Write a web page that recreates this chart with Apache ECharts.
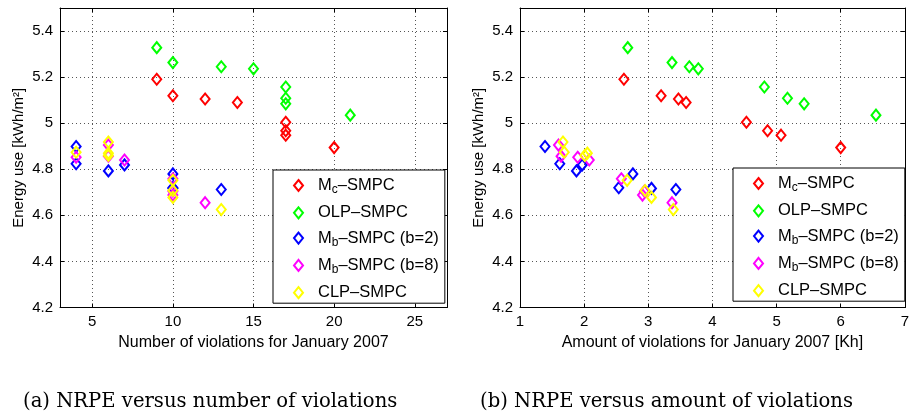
<!DOCTYPE html>
<html>
<head>
<meta charset="utf-8">
<script src="https://cdn.jsdelivr.net/npm/echarts@6/dist/echarts.min.js"></script>
<style>
  html, body { margin: 0; padding: 0; background: #fff; }
  #chart { width: 912px; height: 413px; }
</style>
</head>
<body>
<div id="chart"></div>
<script>
// Series names (legend order) and colours
const seriesNames = ['Mc\u2013SMPC', 'OLP\u2013SMPC', 'Mb\u2013SMPC (b=2)', 'Mb\u2013SMPC (b=8)', 'CLP\u2013SMPC'];
const seriesColors = ['#ff0000', '#00ff00', '#0000ff', '#ff00ff', '#ffff00'];

// Energy use per run [kWh/m2]
const energyMc  = [5.191, 5.119, 5.105, 5.090, 5.004, 4.967, 4.948, 4.894];
const energyOLP = [5.328, 5.263, 5.245, 5.236, 5.157, 5.108, 5.084, 5.035];
const energyMb2 = [4.899, 4.824, 4.793, 4.819, 4.720, 4.780, 4.717, 4.712];
const energyMb8 = [4.905, 4.857, 4.852, 4.840, 4.759, 4.688, 4.705, 4.655];
const energyCLP = [4.918, 4.874, 4.860, 4.870, 4.752, 4.708, 4.678, 4.625];

// Number of violations for January 2007
const countMc  = [9, 10, 12, 14, 17, 17, 17, 20];
const countOLP = [9, 10, 13, 15, 17, 17, 17, 21];
const countMb2 = [4, 4, 6, 7, 10, 10, 10, 13];
const countMb8 = [6, 6, 4, 7, 10, 10, 10, 12];
const countCLP = [6, 4, 6, 6, 10, 10, 10, 13];

// Amount of violations for January 2007 [Kh]
const amountMc  = [2.62, 3.20, 3.47, 3.59, 4.53, 4.86, 5.07, 6.00];
const amountOLP = [2.68, 3.37, 3.64, 3.78, 4.81, 5.17, 5.43, 6.55];
const amountMb2 = [1.39, 1.62, 1.88, 1.97, 2.54, 2.76, 3.05, 3.43];
const amountMb8 = [1.60, 1.64, 1.90, 2.08, 2.58, 2.91, 2.94, 3.37];
const amountCLP = [1.67, 1.69, 2.01, 2.05, 2.67, 2.95, 3.05, 3.39];

// Tick values
const countTicks = [5, 10, 15, 20, 25];
const amountTicks = [1, 2, 3, 4, 5, 6, 7];

const energies = [energyMc, energyOLP, energyMb2, energyMb8, energyCLP];
const counts = [countMc, countOLP, countMb2, countMb8, countCLP];
const amounts = [amountMc, amountOLP, amountMb2, amountMb8, amountCLP];

const FONT = 'Liberation Sans';
const gridLine = { show: true, lineStyle: { color: '#555', type: [1, 3], width: 1 } };
const axisLineBlack = { show: true, onZero: false, lineStyle: { color: '#000', width: 1 } };
const tickIn = { show: true, inside: true, length: 4, lineStyle: { color: '#000' } };

function xAxes(gridIndex, min, max, ticks, name) {
  const main = {
    type: 'value', gridIndex, min, max,
    position: 'bottom',
    name, nameLocation: 'middle', nameGap: 25,
    nameTextStyle: { fontFamily: FONT, fontSize: 16, color: '#000' },
    axisLine: axisLineBlack,
    axisTick: Object.assign({ customValues: ticks }, tickIn),
    axisLabel: { customValues: ticks, fontFamily: FONT, fontSize: 15, color: '#000', margin: 7 },
    splitLine: Object.assign({ customValues: ticks }, gridLine)
  };
  const mirror = {
    type: 'value', gridIndex, min, max, position: 'top',
    axisLine: axisLineBlack,
    axisTick: Object.assign({ customValues: ticks }, tickIn),
    axisLabel: { show: false },
    splitLine: { show: false }
  };
  return [main, mirror];
}

function yAxes(gridIndex) {
  const main = {
    type: 'value', gridIndex, min: 4.2, max: 5.5, interval: 0.2,
    position: 'left',
    name: 'Energy use [kWh/m\u00b2]', nameLocation: 'middle', nameGap: 34, nameRotate: 90,
    nameTextStyle: { fontFamily: FONT, fontSize: 15, color: '#000' },
    axisLine: axisLineBlack,
    axisTick: tickIn,
    axisLabel: {
      fontFamily: FONT, fontSize: 15, color: '#000', margin: 7, showMaxLabel: false,
      formatter: v => (Math.abs(v - 5) < 1e-9 ? '5' : v.toFixed(1))
    },
    splitLine: gridLine
  };
  const mirror = {
    type: 'value', gridIndex, min: 4.2, max: 5.5, interval: 0.2, position: 'right',
    axisLine: axisLineBlack, axisTick: tickIn,
    axisLabel: { show: false }, splitLine: { show: false }
  };
  return [main, mirror];
}

const series = [];
seriesNames.forEach((name, i) => {
  const style = {
    type: 'scatter', name,
    symbol: 'diamond', symbolSize: [9, 11],
    itemStyle: { color: 'rgba(255,255,255,0)', borderColor: seriesColors[i], borderWidth: 2, opacity: 1 },
    emphasis: { disabled: true }
  };
  series.push(Object.assign({}, style, {
    xAxisIndex: 0, yAxisIndex: 0,
    data: counts[i].map((c, k) => [c, energies[i][k]])
  }));
  series.push(Object.assign({}, style, {
    xAxisIndex: 2, yAxisIndex: 2,
    data: amounts[i].map((a, k) => [a, energies[i][k]])
  }));
});

function legendAt(left, top) {
  return {
    orient: 'vertical', left, top,
    data: seriesNames,
    icon: 'diamond', itemWidth: 9, itemHeight: 11, itemGap: 8.3,
    padding: [7, 6, 2, 20],
    backgroundColor: '#fff', borderColor: '#000', borderWidth: 1, borderRadius: 0,
    selectedMode: false,
    formatter: n => n.replace(/^M([cb])/, 'M{sub|$1}'),
    textStyle: {
      fontFamily: FONT, fontSize: 16.5, color: '#000', padding: [0, 0, 0, 10],
      rich: { sub: { fontFamily: FONT, fontSize: 12, color: '#000', padding: [9, 0, 0, 0] } }
    }
  };
}

const option = {
  animation: false,
  backgroundColor: '#fff',
  grid: [
    { left: 60, top: 8, width: 387, height: 299.5 },
    { left: 520, top: 8, width: 387, height: 299.5 }
  ],
  xAxis: [
    ...xAxes(0, 3, 27, countTicks, 'Number of violations for January 2007'),
    ...xAxes(1, 1, 7, amountTicks, 'Amount of violations for January 2007 [Kh]')
  ],
  yAxis: [...yAxes(0), ...yAxes(1)],
  legend: [legendAt(273, 170), legendAt(733, 168)],
  series,
  graphic: [
    { type: 'text', left: 23, top: 392, style: { text: '(a) NRPE versus number of violations', font: '19.6px "DejaVu Serif"', fill: '#000' } },
    { type: 'text', left: 480, top: 392, style: { text: '(b) NRPE versus amount of violations', font: '19.6px "DejaVu Serif"', fill: '#000' } }
  ]
};

const chart = echarts.init(document.getElementById('chart'), null, { renderer: 'canvas' });
chart.setOption(option);
</script>
</body>
</html>
